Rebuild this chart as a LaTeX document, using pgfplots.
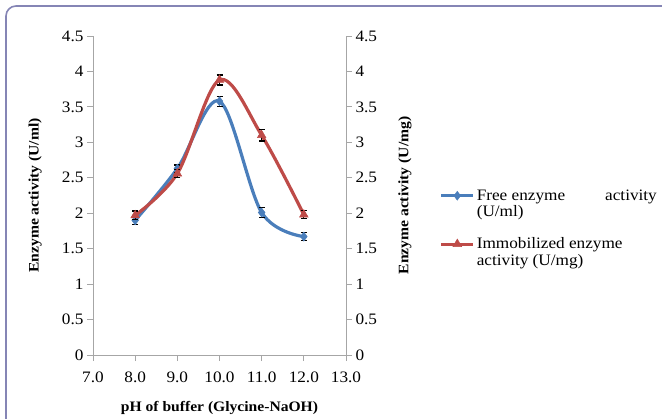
\documentclass[border=0pt]{standalone}
\usepackage{fontspec}
\setmainfont{Liberation Serif}[FakeStretch=1.08]
\usepackage{pgfplots}
\pgfplotsset{compat=1.18}
\definecolor{fblue}{HTML}{4A7EBB}
\definecolor{ired}{HTML}{BE4B48}
\definecolor{axgray}{HTML}{A6A6A6}
\definecolor{framec}{HTML}{8585B5}
\pgfplotsset{
  common/.style={
    at={(93bp,63bp)}, anchor=south west, scale only axis,
    width=253bp, height=319bp,
    xmin=7, xmax=13, ymin=0, ymax=4.5,
    ytick={0,0.5,...,4.5},
    /pgf/number format/assume math mode=true,
    tick label style={font=\fontsize{16}{18}\selectfont, text=black},
    label style={font=\fontsize{14.5}{16}\selectfont\bfseries},
    axis line style={axgray, line width=0.9bp},
    tick style={axgray, line width=0.9bp},
    major tick length=6bp,
    tick align=outside,
  },
  errstyle/.style={error bars/.cd, y dir=both, y explicit,
    error bar style={black, line width=1.2bp},
    error mark options={black, line width=1.2bp, mark size=3bp, rotate=90}},
}
\begin{document}
\begin{tikzpicture}[x=1bp,y=1bp]
\path[use as bounding box] (0,0) rectangle (662,418);
\clip (0,0) rectangle (662,418);
\draw[framec, line width=1.6bp, rounded corners=10bp] (6,-20) -- (6,412) -- (700,412);
\begin{axis}[common,
  axis y line*=left, axis x line*=bottom,
  xtick={7,8,...,13},
  xticklabel style={/pgf/number format/fixed, /pgf/number format/fixed zerofill, /pgf/number format/precision=1, yshift=-7bp},
  ylabel={Enzyme activity (U/ml)},
  ylabel style={at={(axis description cs:-0.229,0.5)}, anchor=center},
  xlabel={pH of buffer (Glycine-NaOH)},
  xlabel style={at={(axis description cs:0.5,-0.166)}, anchor=center},
]
\addplot[fblue, line width=3.2bp, smooth, tension=0.55, mark=diamond*, mark size=4.5bp,
  mark options={fill=fblue, draw=fblue, line width=0.5bp}, errstyle]
  coordinates {(8,1.90) +- (0,0.06) (9,2.63) +- (0,0.05) (10,3.58) +- (0,0.07) (11,2.01) +- (0,0.07) (12,1.67) +- (0,0.06)};
\end{axis}
\begin{axis}[common,
  axis y line*=right, axis x line=none,
  ylabel={Enzyme activity (U/mg)},
  ylabel style={at={(axis description cs:1.233,0.5)}, anchor=center, rotate=0},
  legend style={at={(axis description cs:1.37,0.525)}, anchor=north west, draw=none, fill=none,
    font=\fontsize{16}{16.5}\selectfont, row sep=32bp, inner sep=0pt},
  legend cell align=left,
  legend image code/.code={
    \draw[#1, line width=3bp] (0bp,0bp) -- (32bp,0bp);
    \draw[#1, mark repeat=1] plot coordinates {(16bp,0bp)};},
]
\addlegendimage{fblue, mark=diamond*, mark size=4.5bp, mark options={fill=fblue, draw=fblue}}
\addlegendentry{\parbox[t]{180bp}{Free enzyme\hfill activity\\(U/ml)}}
\addplot[ired, line width=3.2bp, smooth, tension=0.55, mark=triangle*, mark size=5bp,
  mark options={fill=ired, draw=ired, line width=0.5bp}, errstyle]
  coordinates {(8,1.97) +- (0,0.06) (9,2.56) +- (0,0.06) (10,3.88) +- (0,0.07) (11,3.10) +- (0,0.08) (12,1.98) +- (0,0.06)};
\addlegendentry{\parbox[t]{180bp}{Immobilized enzyme\\activity (U/mg)}}
\end{axis}
\end{tikzpicture}
\end{document}
